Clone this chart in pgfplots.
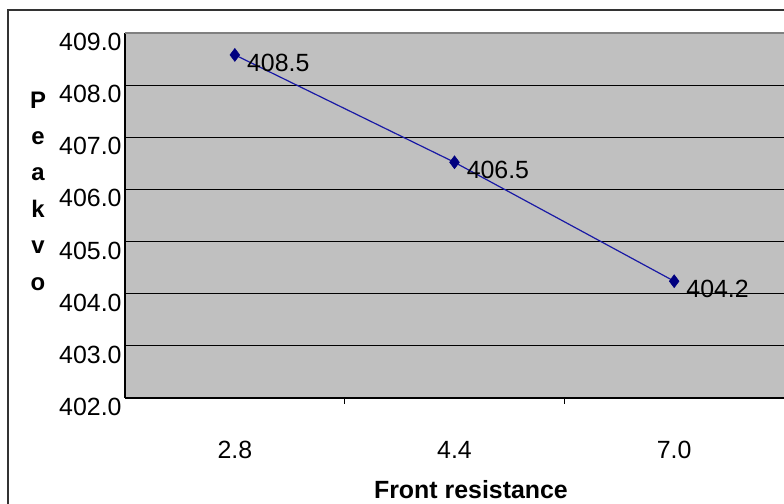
\documentclass[border=0pt]{standalone}
\usepackage{pgfplots}
\pgfplotsset{compat=1.18}
\usepackage{fontspec}
\setmainfont{Liberation Sans}
\definecolor{plotgray}{RGB}{192,192,192}
\definecolor{navy}{RGB}{0,0,128}
\definecolor{serline}{RGB}{25,25,165}
\begin{document}
\begin{tikzpicture}[x=1bp,y=1bp]
\useasboundingbox (0,0) rectangle (784,504);
\begin{scope}
\clip (0,0) rectangle (784,504);
\draw[line width=1.5bp, black!80] (8,-20) rectangle (830,494);
\end{scope}
\begin{axis}[
  at={(125bp,106bp)}, anchor=south west,
  scale only axis, width=659bp, height=365bp,
  xmin=-0.5, xmax=2.5, ymin=402, ymax=409,
  axis background/.style={fill=plotgray},
  axis x line*=bottom, axis y line*=left,
  axis line style={black, line width=1.2bp},
  xtick={0,1,2}, xticklabels={2.8,4.4,7.0},
  major x tick style={draw=none},
  minor xtick={0.5,1.5},
  minor x tick style={black, line width=1bp},
  minor tick length=6bp,
  tick align=outside,
  ytick={402,403,...,409},
  y tick style={draw=none},
  ymajorgrids, grid style={black, line width=1.2bp},
  /pgf/number format/.cd, fixed, fixed zerofill, precision=1, assume math mode=true, /pgfplots/.cd,
  tick label style={font=\fontsize{25}{30}\selectfont, text=black},
  yticklabel style={anchor=east, inner sep=0pt, xshift=1bp, yshift=-9bp},
  xticklabel style={anchor=north, inner sep=0pt, yshift=-39bp},
  xlabel={Front resistance},
  xlabel style={at={(axis description cs:0.525,-0.252)}, anchor=center, inner sep=0pt, font=\bfseries\fontsize{25}{30}\selectfont},
  ylabel={P\\e\\a\\k\\v\\o},
  ylabel style={rotate=-90, at={(axis description cs:-0.132,0.567)}, anchor=center, align=center, inner sep=0pt, font=\bfseries\fontsize{24}{36.5}\selectfont},
  clip=false,
]
\draw[gray, line width=1.2bp] (rel axis cs:0,1) -- (rel axis cs:1,1);
\addplot[color=serline, line width=1.2bp, mark=diamond*, mark size=6.5bp,
  mark options={fill=navy, draw=navy, line width=0.5bp},
  nodes near coords, point meta=explicit symbolic,
  every node near coord/.append style={anchor=west, inner sep=0pt, xshift=12bp, yshift=-8bp, font=\fontsize{25}{30}\selectfont, text=black}]
  table[meta=label] {
x y label
0 408.58 408.5
1 406.52 406.5
2 404.24 404.2
};
\end{axis}
\end{tikzpicture}
\end{document}
